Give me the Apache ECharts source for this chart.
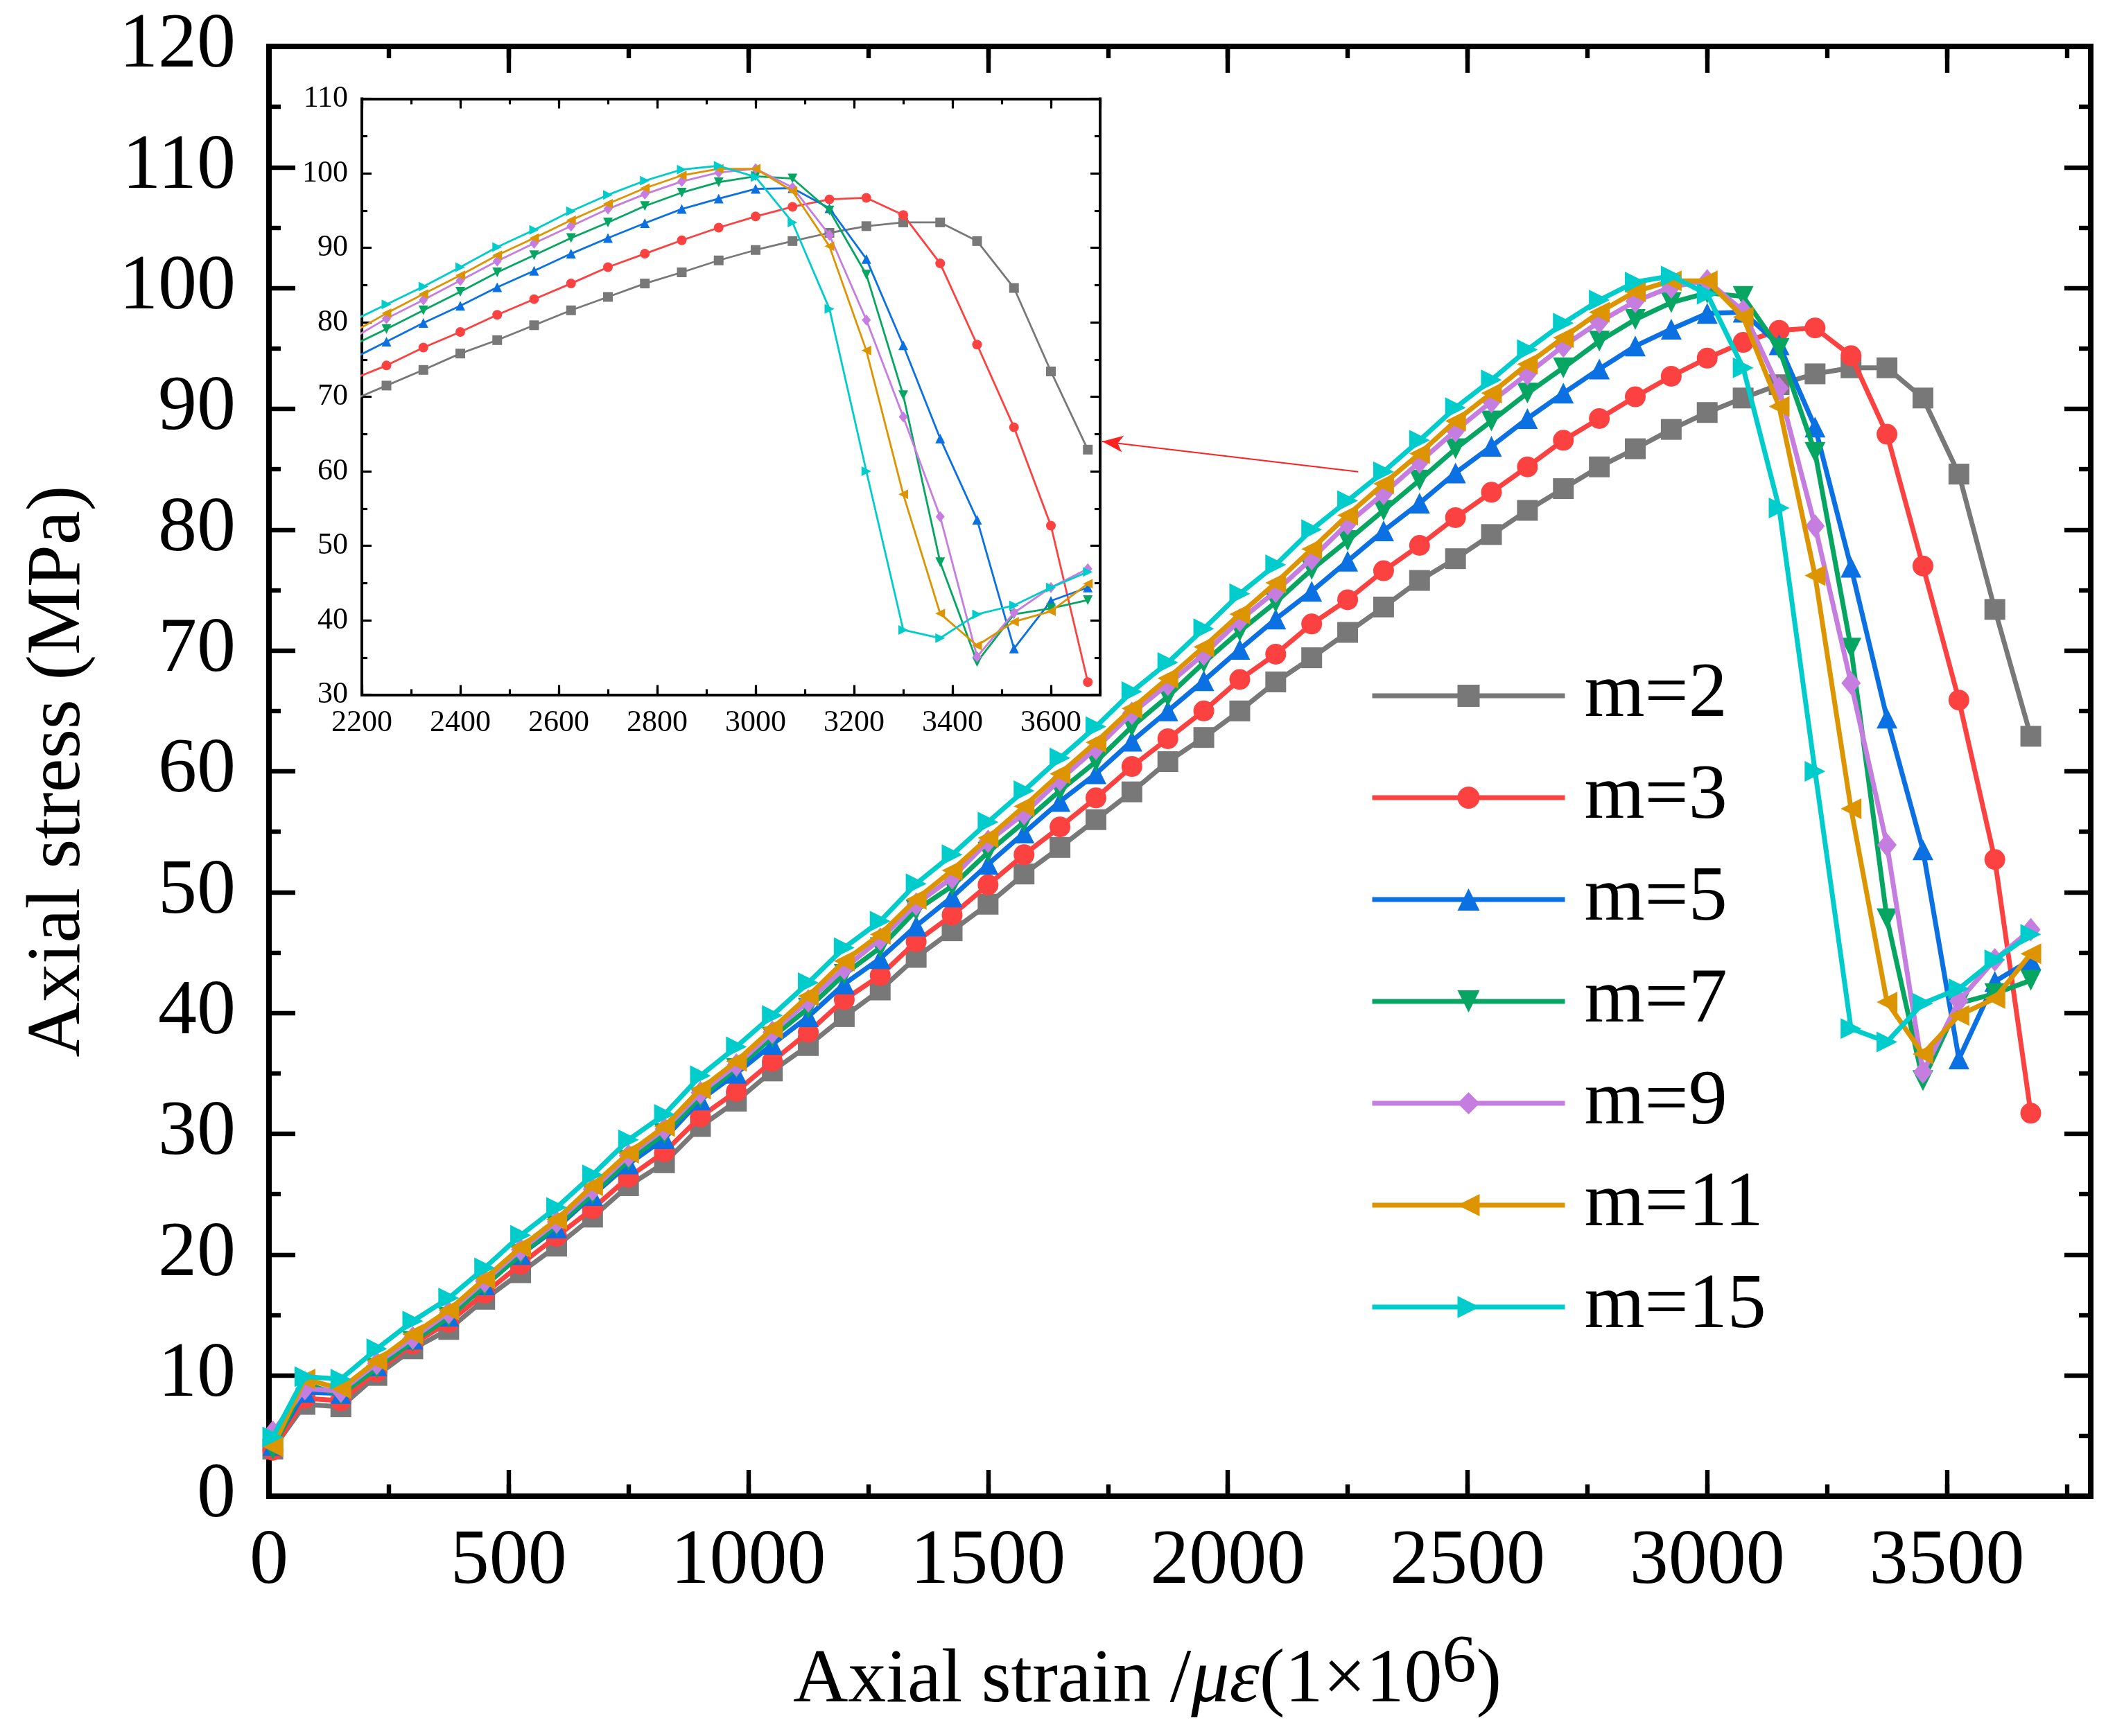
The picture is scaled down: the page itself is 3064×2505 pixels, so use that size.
<!DOCTYPE html>
<html>
<head>
<meta charset="utf-8">
<script src="https://cdn.jsdelivr.net/npm/echarts@6/dist/echarts.min.js"></script>
<style>
html, body { margin: 0; padding: 0; background: #fff; }
#chart { width: 3064px; height: 2505px; }
</style>
</head>
<body>
<div id="chart"></div>
<script>
// axial strain (x), same for every curve
var strain = [8, 75, 150, 225, 300, 375, 450, 525, 600, 675,
    750, 825, 900, 975, 1050, 1125, 1200, 1275, 1350, 1425,
    1500, 1575, 1650, 1725, 1800, 1875, 1950, 2025, 2100, 2175,
    2250, 2325, 2400, 2475, 2550, 2625, 2700, 2775, 2850, 2925,
    3000, 3075, 3150, 3225, 3300, 3375, 3450, 3525, 3600, 3675];

// axial stress (MPa) for each m
var m2 = [3.9, 7.6, 7.4, 10.0, 12.2, 13.8, 16.3, 18.5, 20.7, 23.1,
    25.7, 27.6, 30.6, 32.7, 35.2, 37.3, 39.7, 41.9, 44.6, 46.8,
    49.0, 51.5, 53.7, 56.0, 58.3, 60.8, 62.8, 65.0, 67.4, 69.4,
    71.5, 73.6, 75.8, 77.6, 79.6, 81.6, 83.4, 85.2, 86.7, 88.3,
    89.7, 90.9, 92.0, 92.9, 93.4, 93.4, 90.9, 84.6, 73.4, 62.9];
var m3 = [3.8, 8.1, 7.9, 10.3, 12.6, 14.4, 16.8, 19.2, 21.5, 23.8,
    26.4, 28.5, 31.4, 33.5, 36.0, 38.4, 41.1, 43.1, 45.9, 48.1,
    50.6, 53.1, 55.4, 57.8, 60.4, 62.7, 65.0, 67.6, 69.7, 72.2,
    74.2, 76.6, 78.7, 81.0, 83.1, 85.2, 87.4, 89.2, 91.0, 92.7,
    94.2, 95.5, 96.5, 96.7, 94.4, 87.9, 77.0, 65.9, 52.7, 31.7];
var m5 = [4.2, 8.6, 8.5, 10.8, 13.0, 14.9, 17.5, 20.0, 22.2, 24.9,
    27.5, 29.6, 32.8, 35.0, 37.4, 39.7, 42.4, 44.5, 47.2, 49.6,
    52.3, 54.9, 57.5, 59.8, 62.5, 65.0, 67.5, 70.1, 72.6, 74.9,
    77.4, 79.9, 82.2, 84.7, 86.9, 89.2, 91.3, 93.3, 95.2, 96.6,
    97.9, 98.0, 95.3, 88.5, 76.9, 64.4, 53.5, 36.2, 42.6, 44.4];
var m7 = [3.9, 9.3, 8.4, 10.6, 12.8, 14.8, 17.4, 20.0, 22.4, 25.0,
    27.8, 30.0, 33.0, 35.4, 38.0, 40.4, 43.2, 45.4, 48.5, 50.5,
    53.3, 55.8, 58.4, 60.8, 63.7, 66.2, 69.0, 71.6, 74.0, 76.7,
    79.1, 81.6, 84.1, 86.7, 89.0, 91.3, 93.4, 95.6, 97.4, 98.8,
    99.6, 99.3, 95.0, 86.4, 70.2, 47.8, 34.4, 40.8, 41.6, 42.7];
var m9 = [5.3, 8.9, 8.7, 11.0, 13.1, 15.2, 17.8, 20.4, 22.7, 25.4,
    28.2, 30.4, 33.4, 35.7, 38.4, 41.0, 43.7, 46.1, 49.0, 51.2,
    54.2, 56.5, 59.3, 61.9, 64.8, 67.2, 69.7, 72.5, 74.9, 77.6,
    80.5, 83.0, 85.6, 88.2, 90.6, 92.9, 95.2, 97.2, 98.9, 100.1,
    100.6, 98.1, 91.7, 80.3, 67.3, 53.9, 35.1, 41.0, 44.4, 46.9];
var m11 = [4.1, 9.7, 8.9, 11.2, 13.4, 15.4, 18.0, 20.6, 22.9, 25.7,
    28.4, 30.6, 33.7, 36.0, 38.7, 41.4, 44.3, 46.5, 49.4, 51.8,
    54.5, 57.1, 59.8, 62.4, 65.2, 67.7, 70.3, 73.0, 75.6, 78.4,
    81.2, 83.8, 86.3, 89.0, 91.3, 93.7, 95.9, 98.0, 99.7, 100.6,
    100.6, 97.6, 90.2, 76.2, 56.9, 40.9, 36.6, 39.8, 41.2, 44.9];
var m15 = [4.9, 9.9, 9.7, 12.2, 14.5, 16.4, 18.9, 21.6, 23.9, 26.6,
    29.5, 31.6, 34.8, 37.2, 39.8, 42.5, 45.4, 47.6, 50.7, 53.1,
    55.8, 58.4, 61.1, 63.7, 66.6, 69.0, 71.8, 74.7, 77.1, 80.0,
    82.4, 84.8, 87.4, 90.1, 92.4, 94.9, 97.1, 99.0, 100.5, 101.0,
    99.5, 93.4, 81.8, 60.0, 38.7, 37.6, 40.8, 42.0, 44.4, 46.5];

var names = ['m=2', 'm=3', 'm=5', 'm=7', 'm=9', 'm=11', 'm=15'];
var values = [m2, m3, m5, m7, m9, m11, m15];

// arrow from the main curves to the inset [from, to]
var arrowFrom = [2272, 84.8];
var arrowTo = [1738, 87.3];

var colors = ['#787878', '#fc4141', '#0b70e2', '#06a662', '#c57de0', '#dc9500', '#00cccc'];
var symbols = ['rect', 'circle', 'triangle', 'triangle', 'diamond', 'triangle', 'triangle'];
var rotates = [0, 0, 0, 180, 0, 90, -90];
var FONT = "'Liberation Serif', 'Times New Roman', serif";

function pairs(arr) {
    var out = [];
    for (var i = 0; i < arr.length; i++) {
        out.push([strain[i], arr[i]]);
    }
    return out;
}

function plain(v) {
    return String(v);
}

function xAx(grid, pos, min, max, step, len, lw, withLine, label) {
    return {
        type: 'value', gridIndex: grid, position: pos, min: min, max: max, interval: step,
        axisLine: {show: withLine, onZero: false, lineStyle: {color: '#000', width: lw, cap: 'square'}},
        axisTick: {show: true, inside: true, length: len, lineStyle: {color: '#000', width: lw * 0.8}},
        axisLabel: label || {show: false},
        splitLine: {show: false}
    };
}

function yAx(grid, pos, min, max, len, mlen, lw, label) {
    return {
        type: 'value', gridIndex: grid, position: pos, min: min, max: max, interval: 10,
        axisLine: {show: true, onZero: false, lineStyle: {color: '#000', width: lw, cap: 'square'}},
        axisTick: {show: true, inside: true, length: len, lineStyle: {color: '#000', width: lw * 0.8}},
        minorTick: {show: true, splitNumber: 2, length: mlen, lineStyle: {color: '#000', width: lw * 0.8}},
        axisLabel: label || {show: false},
        splitLine: {show: false}
    };
}

var mainX = xAx(0, 'bottom', 0, 3800, 500, 38, 8, true,
    {show: true, showMaxLabel: false, margin: 40, formatter: plain, color: '#000', fontFamily: FONT, fontSize: 112, lineHeight: 112});
mainX.name = '{a|Axial strain /}{i|\u03bc\u03b5}{a|(1\u00d710}{s|6}{a|)}';
mainX.nameLocation = 'middle';
mainX.nameGap = 192;
mainX.nameTextStyle = {
    color: '#000', fontFamily: FONT, padding: [0, 94, 0, 0],
    rich: {
        a: {fontFamily: FONT, fontSize: 110, lineHeight: 150, color: '#000'},
        i: {fontFamily: FONT, fontSize: 110, lineHeight: 150, fontStyle: 'italic', color: '#000'},
        s: {fontFamily: FONT, fontSize: 98, lineHeight: 95, verticalAlign: 'top', color: '#000'}
    }
};

var mainY = yAx(0, 'left', 0, 120, 38, 17, 8,
    {show: true, margin: 48, formatter: plain, color: '#000', fontFamily: FONT, fontSize: 112, lineHeight: 112});
mainY.name = 'Axial stress (MPa)';
mainY.nameLocation = 'middle';
mainY.nameGap = 248;
mainY.nameTextStyle = {color: '#000', fontFamily: FONT, fontSize: 110, lineHeight: 110};

var xAxes = [
    mainX,
    xAx(0, 'bottom', 0, 3800, 250, 17, 8, false),
    xAx(0, 'top', 0, 3800, 500, 38, 8, true),
    xAx(0, 'top', 0, 3800, 250, 17, 8, false),
    xAx(1, 'bottom', 2200, 3700, 200, 14, 4, true,
        {show: true, showMaxLabel: false, margin: 19, formatter: plain, color: '#000', fontFamily: FONT, fontSize: 44, lineHeight: 44}),
    xAx(1, 'bottom', 2200, 3700, 100, 8, 4, false),
    xAx(1, 'top', 2200, 3700, 200, 14, 4, true),
    xAx(1, 'top', 2200, 3700, 100, 8, 4, false)
];

var yAxes = [
    mainY,
    yAx(0, 'right', 0, 120, 38, 17, 8),
    yAx(1, 'left', 30, 110, 14, 8, 4, {show: true, margin: 20, formatter: plain, color: '#000', fontFamily: FONT, fontSize: 44, lineHeight: 44}),
    yAx(1, 'right', 30, 110, 14, 8, 4)
];

var series = [];
names.forEach(function (n, k) {
    var s = {
        type: 'line', name: n, xAxisIndex: 0, yAxisIndex: 0,
        data: pairs(values[k]),
        symbol: symbols[k], symbolRotate: rotates[k],
        symbolSize: symbols[k] === 'diamond' ? [28, 34] : 30,
        lineStyle: {width: 7, color: colors[k]},
        itemStyle: {color: colors[k], borderWidth: 0},
        z: 2 + k
    };
    if (k === 0) {
        s.markLine = {
            silent: true,
            symbol: ['none', 'arrow'],
            symbolSize: [18, 30],
            label: {show: false},
            lineStyle: {color: '#ff2020', width: 2, type: 'solid'},
            data: [[{coord: arrowFrom}, {coord: arrowTo}]]
        };
    }
    series.push(s);
});
names.forEach(function (n, k) {
    series.push({
        type: 'line', name: n, xAxisIndex: 4, yAxisIndex: 2,
        data: pairs(values[k]), clip: true,
        symbol: symbols[k], symbolRotate: rotates[k],
        symbolSize: symbols[k] === 'diamond' ? [13, 16] : 14,
        lineStyle: {width: 2.8, color: colors[k]},
        itemStyle: {color: colors[k], borderWidth: 0},
        z: 20 + k
    });
});

var chart = echarts.init(document.getElementById('chart'), null, {renderer: 'canvas', devicePixelRatio: 1});
chart.setOption({
    backgroundColor: '#fff',
    animation: false,
    grid: [
        {left: 388, right: 48, top: 67, bottom: 346},
        {left: 522, right: 1477, top: 142.5, bottom: 1502.5}
    ],
    legend: {
        orient: 'vertical', left: 1971, top: 943,
        itemWidth: 278, itemHeight: 40, itemGap: 35,
        data: names,
        lineStyle: {width: 7},
        textStyle: {color: '#000', fontFamily: FONT, fontSize: 112, lineHeight: 112, padding: [0, 0, 0, 23]}
    },
    xAxis: xAxes,
    yAxis: yAxes,
    series: series
});
</script>
</body>
</html>
